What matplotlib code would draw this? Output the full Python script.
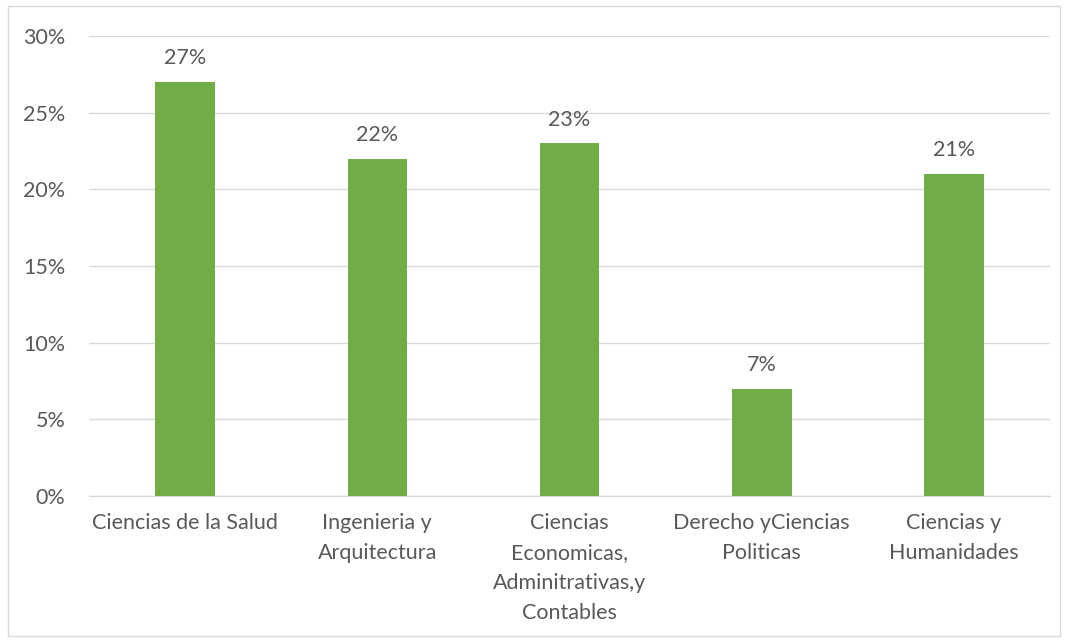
import matplotlib.pyplot as plt
from matplotlib.patches import Rectangle
from matplotlib.ticker import PercentFormatter

categorias = [
    "Ciencias de la Salud",
    "Ingenieria y\nArquitectura",
    "Ciencias\nEconomicas,\nAdminitrativas,y\nContables",
    "Derecho yCiencias\nPoliticas",
    "Ciencias y\nHumanidades",
]
porcentajes = [27, 22, 23, 7, 21]
ticks_y = [0, 5, 10, 15, 20, 25, 30]

verde = "#70AD47"
gris_texto = "#595959"
gris_linea = "#D9D9D9"

plt.rcParams['font.family'] = ['Lato', 'DejaVu Sans']

fig = plt.figure(figsize=(10.68, 6.41), dpi=100)
ax = fig.add_axes([0.0833, 0.2262, 0.9, 0.7176])

x = range(len(categorias))
bars = ax.bar(x, porcentajes, width=0.31, color=verde, zorder=3)

# etiquetas de valor encima de cada barra
for b, v in zip(bars, porcentajes):
    ax.annotate(f"{v}%", (b.get_x() + b.get_width() / 2, v),
                xytext=(0, 17), textcoords="offset points",
                ha="center", va="center", fontsize=15.5, color=gris_texto)

ax.set_xlim(-0.5, len(categorias) - 0.5)
ax.set_ylim(0, 30)
ax.set_yticks(ticks_y)
ax.yaxis.set_major_formatter(PercentFormatter(decimals=0))
ax.set_xticks(list(x))
ax.set_xticklabels(categorias, linespacing=1.62)

ax.grid(axis="y", color=gris_linea, linewidth=1, zorder=0)
for s in ["top", "right", "left"]:
    ax.spines[s].set_visible(False)
ax.spines["bottom"].set_color(gris_linea)
ax.spines["bottom"].set_linewidth(1)

ax.tick_params(axis="both", length=0, labelsize=15.5, labelcolor=gris_texto)
ax.tick_params(axis="y", pad=17)
ax.tick_params(axis="x", pad=12.5)
for lbl in ax.get_xticklabels():
    lbl.set_va("top")

# marco del area del grafico
fig.patches.append(Rectangle((0.0075, 0.008), 0.985, 0.983, transform=fig.transFigure,
                             fill=False, edgecolor=gris_linea, linewidth=1))

fig.savefig("out.png", dpi=100, facecolor="white")
